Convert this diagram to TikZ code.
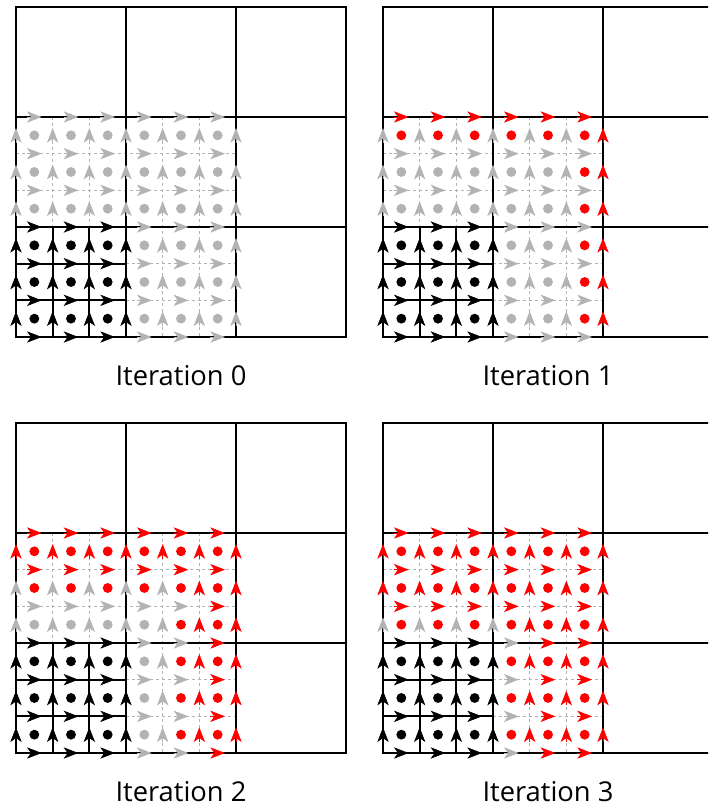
\documentclass[tikz,border=0pt]{standalone}
\usepackage{fontspec}
\setsansfont{Open Sans}
\usetikzlibrary{arrows.meta}
\definecolor{itergrey}{HTML}{B3B3B3}
\definecolor{iterred}{HTML}{FF0000}

% fine cell width (one third of a coarse cell)
\newcommand{\cw}{36.6667}

% #1,#2 top left corner, #3 iteration, #4 name of the label
\newcommand{\iterpanel}[4]{%
  \begin{scope}[shift={(#1,#2)}]
    \pgfmathtruncatemacro{\ecut}{7-#3}
    \pgfmathtruncatemacro{\dcut}{6-#3}
    % --- dashed fine lines, grey part ---
    \foreach \k in {1,2} {
      \draw[dashln] (110,{330-\k*\cw}) -- (220,{330-\k*\cw});
      \draw[dashln] ({\k*\cw},110) -- ({\k*\cw},220);
    }
    \foreach \k in {4,5} {
      \draw[dashln] (0,{330-\k*\cw}) -- (220,{330-\k*\cw});
      \draw[dashln] ({\k*\cw},110) -- ({\k*\cw},330);
    }
    % --- solid fine lines, black part ---
    \foreach \k in {1,2} {
      \draw[fineln] (0,{330-\k*\cw}) -- (110,{330-\k*\cw});
      \draw[fineln] ({\k*\cw},220) -- ({\k*\cw},330);
    }
    % --- coarse grid ---
    \foreach \k in {110,220} {
      \draw[bigln] (\k,0) -- (\k,330);
      \draw[bigln] (0,\k) -- (330,\k);
    }
    \draw[bigln] (0,0) rectangle (330,330);
    % --- cell values ---
    \foreach \i in {0,...,5} \foreach \j in {0,...,5} {
      \def\clr{itergrey}
      \ifnum\i<3 \ifnum\j<3 \def\clr{black}\fi\fi
      \ifnum\i<\dcut\relax \ifnum\j<\dcut\relax\else\def\clr{iterred}\fi \else\def\clr{iterred}\fi
      \fill[fill=\clr] ({(\i+0.5)*\cw},{330-(\j+0.5)*\cw}) circle[radius=3.7pt];
    }
    % --- horizontal edges ---
    \foreach \i in {0,...,5} \foreach \jl in {0,...,6} {
      \def\clr{itergrey}
      \ifnum\i<3 \ifnum\jl<4 \def\clr{black}\fi\fi
      \ifnum\i<\ecut\relax \ifnum\jl<\ecut\relax\else\def\clr{iterred}\fi \else\def\clr{iterred}\fi
      \draw[arr, color=\clr] ({(\i+0.5)*\cw-7.3},{330-\jl*\cw}) -- ({(\i+0.5)*\cw+7.3},{330-\jl*\cw});
    }
    % --- vertical edges ---
    \foreach \il in {0,...,6} \foreach \j in {0,...,5} {
      \def\clr{itergrey}
      \ifnum\il<4 \ifnum\j<3 \def\clr{black}\fi\fi
      \ifnum\il<\ecut\relax \ifnum\j<\ecut\relax\else\def\clr{iterred}\fi \else\def\clr{iterred}\fi
      \draw[arr, color=\clr] ({\il*\cw},{330-(\j+0.5)*\cw+7.3}) -- ({\il*\cw},{330-(\j+0.5)*\cw-7.3});
    }
    \node[lbl] (#4) at (165,378) {Iteration #3};
  \end{scope}}

\begin{document}
\begin{tikzpicture}[
  x=0.75pt, y=-0.75pt,
  bigln/.style  = {line width=1.9pt, draw=black},
  fineln/.style = {line width=1.6pt, draw=black},
  dashln/.style = {line width=1.2pt, draw=itergrey, dash pattern=on 2.5pt off 2pt},
  arr/.style    = {-{Stealth[length=11pt, width=8.5pt, inset=3pt]}, line width=0.5pt},
  lbl/.style    = {font=\sffamily\fontsize{20.5}{24}\selectfont, anchor=base, inner sep=0pt},
]
\useasboundingbox (0,0) rectangle (708,806);
\clip (0,0) rectangle (708,806);

% --- the four iterations ---
\iterpanel{16}{7}{0}{it0}
\iterpanel{383}{7}{1}{it1}
\iterpanel{16}{423}{2}{it2}
\iterpanel{383}{423}{3}{it3}

\end{tikzpicture}
\end{document}
